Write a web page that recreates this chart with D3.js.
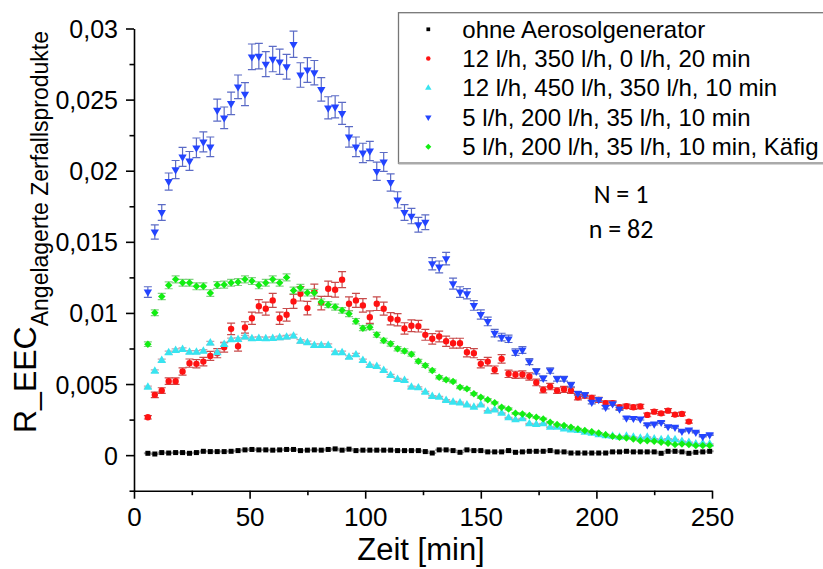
<!DOCTYPE html>
<html>
<head>
<meta charset="utf-8">
<script src="https://cdn.jsdelivr.net/npm/d3@7"></script>
<style>
  html, body { margin: 0; padding: 0; background: #fff; }
  svg { display: block; }
  text { font-family: "Liberation Sans", Arial, sans-serif; fill: #000; }
</style>
</head>
<body>
<svg id="chart" width="823" height="569"></svg>
<script>
// Messzeitpunkte [min]
const times = [6,9,12,15,18,21,24,27,30,33,36,39,42,45,48,51,54,57,60,63,66,69,72,75,78,81,84,87,90,93,
  96,99,102,105,108,111,114,117,120,123,126,129,132,135,138,141,144,147,150,153,156,159,162,165,168,171,174,177,180,183,
  186,189,192,195,198,201,204,207,210,213,216,219,222,225,228,231,234,237,240,243,246,249];

const seriesLabels = [
  "ohne Aerosolgenerator",
  "12 l/h, 350 l/h, 0 l/h, 20 min",
  "12 l/h, 450 l/h, 350 l/h, 10 min",
  "5 l/h, 200 l/h, 35 l/h, 10 min",
  "5 l/h, 200 l/h, 35 l/h, 10 min, Käfig"
];

// ohne Aerosolgenerator
const ohneValues = [0.00013,0.00008,0.00018,0.00015,0.00018,0.00018,0.00013,0.00018,0.00027,0.00025,
  0.00025,0.00025,0.00027,0.00032,0.00037,0.00040,0.00037,0.00037,0.00035,0.00037,
  0.00040,0.00040,0.00032,0.00035,0.00037,0.00035,0.00040,0.00044,0.00035,0.00042,
  0.00032,0.00035,0.00035,0.00035,0.00035,0.00035,0.00032,0.00032,0.00032,0.00032,
  0.00025,0.00015,0.00037,0.00037,0.00032,0.00020,0.00037,0.00032,0.00032,0.00023,
  0.00023,0.00023,0.00032,0.00020,0.00023,0.00027,0.00027,0.00027,0.00032,0.00023,
  0.00023,0.00015,0.00015,0.00015,0.00015,0.00015,0.00015,0.00023,0.00023,0.00027,
  0.00023,0.00023,0.00023,0.00023,0.00013,0.00027,0.00027,0.00023,0.00013,0.00020,
  0.00023,0.00027];
const ohneErrors = [0.00003,0.00003,0.00003,0.00003,0.00003,0.00003,0.00003,0.00003,0.00003,0.00003,
  0.00003,0.00003,0.00003,0.00003,0.00004,0.00004,0.00004,0.00004,0.00003,0.00004,
  0.00004,0.00004,0.00003,0.00003,0.00004,0.00003,0.00004,0.00004,0.00003,0.00004,
  0.00003,0.00003,0.00003,0.00003,0.00003,0.00003,0.00003,0.00003,0.00003,0.00003,
  0.00003,0.00002,0.00004,0.00004,0.00003,0.00002,0.00004,0.00003,0.00003,0.00003,
  0.00003,0.00003,0.00003,0.00002,0.00003,0.00003,0.00003,0.00003,0.00003,0.00003,
  0.00003,0.00002,0.00002,0.00002,0.00002,0.00002,0.00002,0.00003,0.00003,0.00003,
  0.00003,0.00003,0.00003,0.00003,0.00002,0.00003,0.00003,0.00003,0.00002,0.00002,
  0.00003,0.00003];

// 12 l/h, 350 l/h, 0 l/h, 20 min
const redValues = [0.00266,0.00424,0.00454,0.00520,0.00520,0.00588,0.00647,0.00642,0.00658,0.00698,
  0.00717,0.00759,0.00888,0.00766,0.00898,0.00963,0.01047,0.01030,0.01088,0.00963,
  0.00987,0.01081,0.01135,0.01034,0.01151,0.01069,0.01170,0.01163,0.01234,0.01065,
  0.01088,0.01053,0.00970,0.01065,0.01030,0.00959,0.00952,0.00891,0.00910,0.00907,
  0.00846,0.00818,0.00834,0.00801,0.00787,0.00787,0.00724,0.00717,0.00642,0.00658,
  0.00600,0.00677,0.00572,0.00565,0.00567,0.00553,0.00511,0.00459,0.00482,0.00454,
  0.00463,0.00454,0.00407,0.00419,0.00403,0.00389,0.00365,0.00365,0.00337,0.00344,
  0.00337,0.00342,0.00283,0.00306,0.00294,0.00313,0.00285,0.00290,0.00236];
const redErrors = [0.00012,0.00019,0.00020,0.00023,0.00023,0.00026,0.00029,0.00029,0.00030,0.00031,
  0.00032,0.00034,0.00040,0.00034,0.00040,0.00043,0.00047,0.00046,0.00049,0.00043,
  0.00044,0.00049,0.00051,0.00047,0.00052,0.00048,0.00053,0.00052,0.00056,0.00048,
  0.00049,0.00047,0.00044,0.00048,0.00046,0.00043,0.00043,0.00040,0.00041,0.00041,
  0.00038,0.00037,0.00038,0.00036,0.00035,0.00035,0.00033,0.00032,0.00029,0.00030,
  0.00027,0.00030,0.00026,0.00025,0.00026,0.00025,0.00023,0.00021,0.00022,0.00020,
  0.00021,0.00020,0.00018,0.00019,0.00018,0.00018,0.00016,0.00016,0.00015,0.00015,
  0.00015,0.00015,0.00013,0.00014,0.00013,0.00014,0.00013,0.00013,0.00011];

// 12 l/h, 450 l/h, 350 l/h, 10 min
const cyanValues = [0.00478,0.00590,0.00665,0.00720,0.00736,0.00743,0.00724,0.00724,0.00731,0.00788,
  0.00720,0.00778,0.00811,0.00813,0.00830,0.00818,0.00820,0.00818,0.00820,0.00825,
  0.00830,0.00837,0.00800,0.00790,0.00771,0.00771,0.00771,0.00720,0.00720,0.00689,
  0.00705,0.00665,0.00630,0.00623,0.00595,0.00560,0.00532,0.00525,0.00478,0.00473,
  0.00442,0.00412,0.00407,0.00384,0.00372,0.00367,0.00353,0.00337,0.00353,0.00309,
  0.00318,0.00294,0.00262,0.00248,0.00255,0.00220,0.00215,0.00220,0.00196,0.00196,
  0.00184,0.00177,0.00173,0.00161,0.00154,0.00144,0.00137,0.00133,0.00126,0.00133,
  0.00126,0.00119,0.00126,0.00114,0.00109,0.00114,0.00109,0.00097,0.00090,0.00079,
  0.00082,0.00079];
const cyanErrors = [0.00007,0.00009,0.00010,0.00011,0.00011,0.00011,0.00011,0.00011,0.00011,0.00012,
  0.00011,0.00012,0.00012,0.00012,0.00012,0.00012,0.00012,0.00012,0.00012,0.00012,
  0.00012,0.00013,0.00012,0.00012,0.00012,0.00012,0.00012,0.00011,0.00011,0.00010,
  0.00011,0.00010,0.00009,0.00009,0.00009,0.00008,0.00008,0.00008,0.00007,0.00007,
  0.00007,0.00006,0.00006,0.00006,0.00006,0.00006,0.00005,0.00005,0.00005,0.00005,
  0.00005,0.00004,0.00004,0.00004,0.00004,0.00003,0.00003,0.00003,0.00003,0.00003,
  0.00003,0.00003,0.00003,0.00002,0.00002,0.00002,0.00002,0.00002,0.00002,0.00002,
  0.00002,0.00002,0.00002,0.00002,0.00002,0.00002,0.00002,0.00001,0.00001,0.00001,
  0.00001,0.00001];

// 5 l/h, 200 l/h, 35 l/h, 10 min
const blueValues = [0.01147,0.01569,0.01706,0.01924,0.02008,0.02097,0.02069,0.02161,0.02203,0.02168,
  0.02426,0.02372,0.02473,0.02590,0.02539,0.02801,0.02806,0.02750,0.02785,0.02766,
  0.02731,0.02889,0.02673,0.02708,0.02689,0.02572,0.02442,0.02449,0.02403,0.02238,
  0.02168,0.02125,0.02139,0.01996,0.02062,0.01917,0.01795,0.01706,0.01681,0.01620,
  0.01638,0.01346,0.01323,0.01382,0.01206,0.01147,0.01135,0.01053,0.00989,0.00940,
  0.00858,0.00830,0.00818,0.00724,0.00740,0.00658,0.00590,0.00541,0.00595,0.00537,
  0.00537,0.00496,0.00435,0.00426,0.00372,0.00391,0.00337,0.00361,0.00325,0.00262,
  0.00259,0.00255,0.00215,0.00220,0.00231,0.00201,0.00196,0.00168,0.00177,0.00161,
  0.00132,0.00144];
const blueErrors = [0.00037,0.00050,0.00055,0.00060,0.00064,0.00067,0.00066,0.00069,0.00070,0.00069,
  0.00078,0.00076,0.00079,0.00083,0.00081,0.00090,0.00090,0.00088,0.00089,0.00089,
  0.00087,0.00092,0.00086,0.00087,0.00086,0.00082,0.00078,0.00078,0.00077,0.00072,
  0.00069,0.00068,0.00068,0.00064,0.00066,0.00061,0.00057,0.00055,0.00054,0.00052,
  0.00052,0.00043,0.00042,0.00044,0.00039,0.00037,0.00036,0.00034,0.00032,0.00030,
  0.00027,0.00027,0.00026,0.00023,0.00024,0.00021,0.00019,0.00017,0.00019,0.00017,
  0.00017,0.00016,0.00014,0.00014,0.00012,0.00013,0.00011,0.00012,0.00010,0.00008,
  0.00008,0.00008,0.00007,0.00007,0.00007,0.00006,0.00006,0.00005,0.00006,0.00005,
  0.00004,0.00005];

// 5 l/h, 200 l/h, 35 l/h, 10 min, Käfig
const greenValues = [0.00780,0.01001,0.01116,0.01194,0.01236,0.01212,0.01212,0.01187,0.01187,0.01140,
  0.01196,0.01199,0.01212,0.01217,0.01236,0.01224,0.01194,0.01212,0.01236,0.01212,
  0.01250,0.01158,0.01177,0.01142,0.01142,0.01076,0.01058,0.01041,0.01018,0.00994,
  0.00942,0.00893,0.00900,0.00846,0.00806,0.00783,0.00748,0.00733,0.00710,0.00660,
  0.00630,0.00595,0.00548,0.00530,0.00518,0.00478,0.00466,0.00431,0.00407,0.00389,
  0.00368,0.00337,0.00325,0.00294,0.00290,0.00278,0.00266,0.00255,0.00231,0.00215,
  0.00208,0.00196,0.00184,0.00173,0.00165,0.00156,0.00144,0.00132,0.00125,0.00121,
  0.00114,0.00102,0.00102,0.00097,0.00090,0.00083,0.00074,0.00079,0.00074,0.00067,
  0.00067,0.00067];
const greenErrors = [0.00016,0.00020,0.00022,0.00024,0.00025,0.00024,0.00024,0.00024,0.00024,0.00023,
  0.00024,0.00024,0.00024,0.00024,0.00025,0.00024,0.00024,0.00024,0.00025,0.00024,
  0.00025,0.00023,0.00024,0.00023,0.00023,0.00022,0.00021,0.00021,0.00020,0.00020,
  0.00019,0.00018,0.00018,0.00017,0.00016,0.00016,0.00015,0.00015,0.00014,0.00013,
  0.00013,0.00012,0.00011,0.00011,0.00010,0.00010,0.00009,0.00009,0.00008,0.00008,
  0.00007,0.00007,0.00007,0.00006,0.00006,0.00006,0.00005,0.00005,0.00005,0.00004,
  0.00004,0.00004,0.00004,0.00003,0.00003,0.00003,0.00003,0.00003,0.00003,0.00002,
  0.00002,0.00002,0.00002,0.00002,0.00002,0.00002,0.00001,0.00002,0.00001,0.00001,
  0.00001,0.00001];

// Achsenbeschriftung
const xTickValues = [0, 50, 100, 150, 200, 250];
const yTickValues = [0, 0.005, 0.01, 0.015, 0.02, 0.025, 0.03];
const yTickLabels = ["0", "0,005", "0,01", "0,015", "0,02", "0,025", "0,03"];

// ---------- drawing ----------
const svg = d3.select("#chart");

const x = d3.scaleLinear().domain([0, 250]).range([134, 712]);
const y = d3.scaleLinear().domain([-0.0025, 0.03]).range([490.7, 28.5]);

const series = [
  { label: seriesLabels[0], values: ohneValues,  errors: ohneErrors,  color: "#000000", bar: "#9a9a9a", shape: "square",  size: 25 },
  { label: seriesLabels[1], values: redValues,   errors: redErrors,   color: "#ff1212", bar: "#c84a4a", shape: "circle",  size: 32 },
  { label: seriesLabels[2], values: cyanValues,  errors: cyanErrors,  color: "#38e4f0", bar: "#c8a2ac", shape: "triUp",   size: 32 },
  { label: seriesLabels[3], values: blueValues,  errors: blueErrors,  color: "#2344ff", bar: "#5b6bc6", shape: "triDown", size: 30 },
  { label: seriesLabels[4], values: greenValues, errors: greenErrors, color: "#12ee12", bar: "#84cf84", shape: "diamond", size: 28 }
];

function symbolPath(shape, size) {
  if (shape === "square" || shape === "diamond") return d3.symbol(d3.symbolSquare, size)();
  if (shape === "circle") return d3.symbol(d3.symbolCircle, size)();
  return d3.symbol(d3.symbolTriangle, size)();
}
function symbolRotation(shape) {
  if (shape === "diamond") return 45;
  if (shape === "triDown") return 180;
  return 0;
}

// Axes
const axisG = svg.append("g").attr("class", "axes");

const yMajor = d3.axisLeft(y).tickValues(yTickValues)
  .tickFormat((d, i) => yTickLabels[i]).tickSize(8).tickSizeOuter(0).tickPadding(8);
const yAxisG = axisG.append("g").attr("transform", "translate(134,0)").call(yMajor);
yAxisG.selectAll("text").attr("font-size", 25).attr("font-family", "Liberation Sans, Arial, sans-serif").attr("dy", "0.36em");

const yMinorValues = yTickValues.map(v => v - 0.0025);
const yMinor = d3.axisLeft(y).tickValues(yMinorValues).tickFormat("").tickSize(4.5).tickSizeOuter(0);
const yMinorG = axisG.append("g").attr("transform", "translate(134,0)").call(yMinor);
yMinorG.select(".domain").remove();

const xMajor = d3.axisBottom(x).tickValues(xTickValues).tickSize(8).tickSizeOuter(0).tickPadding(9);
const xAxisG = axisG.append("g").attr("transform", "translate(0,490.7)").call(xMajor);
xAxisG.selectAll("text").attr("font-size", 26).attr("font-family", "Liberation Sans, Arial, sans-serif");

const xMinorValues = xTickValues.slice(1).map(v => v - 25);
const xMinor = d3.axisBottom(x).tickValues(xMinorValues).tickFormat("").tickSize(4.5).tickSizeOuter(0);
const xMinorG = axisG.append("g").attr("transform", "translate(0,490.7)").call(xMinor);
xMinorG.select(".domain").remove();

axisG.selectAll(".domain, .tick line").attr("stroke", "#000").attr("stroke-width", 1.6);

// Axis titles
svg.append("text")
  .attr("x", 421).attr("y", 560)
  .attr("text-anchor", "middle")
  .attr("font-size", 31)
  .text("Zeit [min]");

const yTitle = svg.append("text")
  .attr("transform", "translate(36,433) rotate(-90)");
yTitle.append("tspan").attr("font-size", 32).text("R_EEC");
yTitle.append("tspan").attr("font-size", 23).attr("dy", 12).text("Angelagerte Zerfallsprodukte");

// Data: error bars, then symbols, series after series
const plot = svg.append("g").attr("class", "plot");
series.forEach(s => {
  const pts = s.values.map((v, i) => ({ t: times[i], v: v, e: s.errors[i] }));
  const g = plot.append("g");
  const bars = g.append("g")
    .attr("stroke", s.bar).attr("stroke-width", 1.2).attr("fill", "none");
  bars.selectAll("path").data(pts).join("path")
    .attr("d", d => {
      const cx = x(d.t), y0 = y(d.v - d.e), y1 = y(d.v + d.e);
      return `M${cx},${y0}V${y1}M${cx - 4},${y1}H${cx + 4}M${cx - 4},${y0}H${cx + 4}`;
    });
  const path = symbolPath(s.shape, s.size);
  const rot = symbolRotation(s.shape);
  g.append("g").selectAll("path").data(pts).join("path")
    .attr("d", path)
    .attr("fill", s.color)
    .attr("transform", d => `translate(${x(d.t)},${y(d.v)}) rotate(${rot})`);
});

// Legend
const legend = svg.append("g").attr("class", "legend");
legend.append("rect")
  .attr("x", 398.5).attr("y", 12.7).attr("width", 440).attr("height", 150.6)
  .attr("fill", "#fff").attr("stroke", "#777").attr("stroke-width", 1.3);
legend.append("line")
  .attr("x1", 398.5).attr("x2", 823).attr("y1", 163.3).attr("y2", 163.3)
  .attr("stroke", "#aaa").attr("stroke-width", 2.4);

const legendRows = [29.3, 58.6, 88.0, 117.3, 146.7];
series.forEach((s, i) => {
  const row = legend.append("g");
  const legendSize = s.shape === "circle" ? 16 : (s.shape === "square" ? 14 : 18);
  row.append("path")
    .attr("d", symbolPath(s.shape, legendSize))
    .attr("fill", s.color)
    .attr("transform", `translate(428.3,${legendRows[i]}) rotate(${symbolRotation(s.shape)})`);
  row.append("text")
    .attr("x", 462.3).attr("y", legendRows[i] + 8.4)
    .attr("font-size", 24)
    .text(s.label);
});

// Sample information
const info = svg.append("g").attr("font-size", 26);
info.append("text").attr("x", 621).attr("y", 203.3).attr("text-anchor", "middle")
  .style("font-family", "Carlito, Lato, sans-serif").text("N = 1");
info.append("text").attr("x", 621).attr("y", 238.3).attr("text-anchor", "middle")
  .style("font-family", "Carlito, Lato, sans-serif").text("n = 82");
</script>
</body>
</html>
